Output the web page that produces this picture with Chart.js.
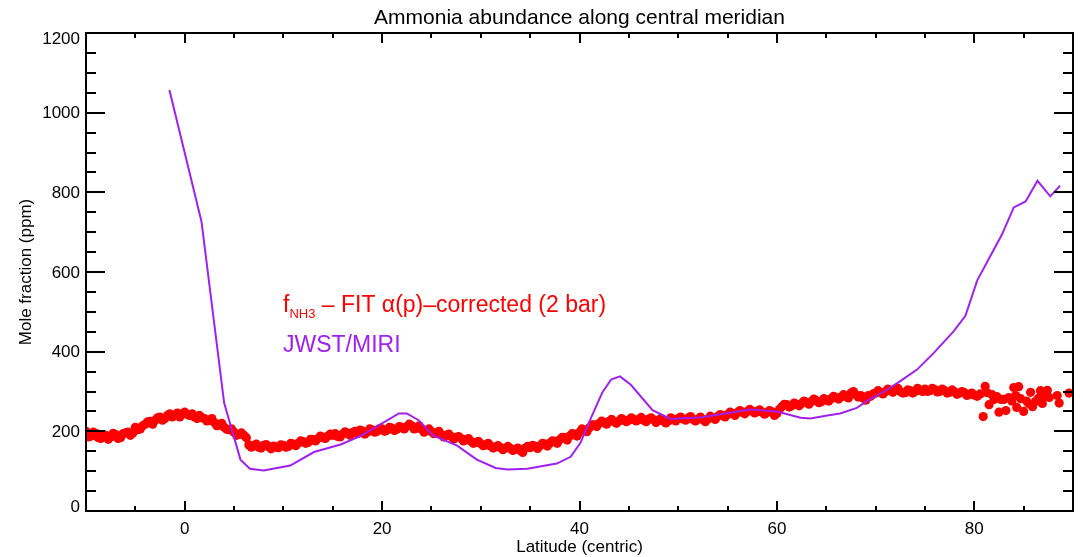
<!DOCTYPE html>
<html><head><meta charset="utf-8">
<script src="https://cdn.jsdelivr.net/npm/chart.js@4/dist/chart.umd.min.js"></script>
<style>html,body{margin:0;padding:0;background:#fff}canvas{display:block}</style>
</head><body>
<canvas id="c" width="1083" height="557"></canvas>
<script>
const titleText = 'Ammonia abundance along central meridian';
const xTitle = 'Latitude (centric)';
const yTitle = 'Mole fraction (ppm)';
const xTickValues = [0, 20, 40, 60, 80];
const yTickValues = [0, 200, 400, 600, 800, 1000, 1200];

const redLat = [
  -10,-9.5,-9,-8.5,-8,-7.5,-7,-6.5,-6,-5.5,
  -5,-4.5,-4,-3.5,-3,-2.5,-2,-1.5,-1,-0.5,
  0,0.5,1,1.5,2,2.5,3,3.5,4,4.5,
  5,5.5,6,6.5,7,7.5,8,8.5,9,9.5,
  10,10.5,11,11.5,12,12.5,13,13.5,14,14.5,
  15,15.5,16,16.5,17,17.5,18,18.5,19,19.5,
  20,20.5,21,21.5,22,22.5,23,23.5,24,24.5,
  25,25.5,26,26.5,27,27.5,28,28.5,29,29.5,
  30,30.5,31,31.5,32,32.5,33,33.5,34,34.5,
  35,35.5,36,36.5,37,37.5,38,38.5,39,39.5,
  40,40.5,41,41.5,42,42.5,43,43.5,44,44.5,
  45,45.5,46,46.5,47,47.5,48,48.5,49,49.5,
  50,50.5,51,51.5,52,52.5,53,53.5,54,54.5,
  55,55.5,56,56.5,57,57.5,58,58.5,59,59.5,
  60,60.5,61,61.5,62,62.5,63,63.5,64,64.5,
  65,65.5,66,66.5,67,67.5,68,68.5,69,69.5,
  70,70.5,71,71.5,72,72.5,73,73.5,74,74.5,
  75,75.5,76,76.5,77,77.5,78,78.5,79,79.5,
  80,
  80.3,80.6,80.9,81.1,81.3,81.5,81.8,82.0,82.3,82.5,
  82.7,83.0,83.2,83.5,83.8,84.0,84.2,84.3,84.5,84.7,
  85.0,85.3,85.5,85.7,85.9,86.2,86.5,86.7,86.9,87.1,
  87.4,87.6,88.4,88.6,89.6
];
const redVal = [
  200,188,195,182,190,186,192,184,196,190,
  210,206,218,225,228,236,232,244,240,236,
  248,240,236,240,232,228,222,216,210,204,
  198,192,190,166,164,160,165,161,163,159,
  165,162,168,170,174,172,179,182,184,188,
  190,187,193,195,197,194,201,198,204,200,
  206,203,208,205,210,212,214,208,206,202,
  199,196,192,190,187,185,182,179,175,172,
  169,166,163,161,159,158,157,155,152,158,
  159,162,164,168,171,175,179,184,188,193,
  198,203,209,216,220,222,225,224,226,228,
  228,230,230,228,231,229,227,226,226,230,
  232,231,233,230,231,229,231,234,237,240,
  242,245,247,248,250,251,250,248,247,249,
  245,262,267,264,268,270,273,275,277,274,
  279,282,285,286,288,296,292,290,278,288,
  296,298,300,302,306,300,297,302,300,303,
  306,302,305,300,302,298,299,296,297,293,
  291,
  288,294,237,313,297,267,292,280,287,248,
  280,280,252,285,276,310,290,260,312,282,
  250,276,270,298,262,275,283,302,270,287,
  303,285,290,271,296
];

const redLatB = [
  -9.75,-9.25,-8.75,-8.25,-7.75,-7.25,-6.75,-6.25,-5.75,-5.25,
  -4.75,-4.25,-3.75,-3.25,-2.75,-2.25,-1.75,-1.25,-0.75,-0.25,
  0.25,0.75,1.25,1.75,2.25,2.75,3.25,3.75,4.25,4.75,
  5.25,5.75,6.25,6.75,7.25,7.75,8.25,8.75,9.25,9.75,
  10.25,10.75,11.25,11.75,12.25,12.75,13.25,13.75,14.25,14.75,
  15.25,15.75,16.25,16.75,17.25,17.75,18.25,18.75,19.25,19.75,
  20.25,20.75,21.25,21.75,22.25,22.75,23.25,23.75,24.25,24.75,
  25.25,25.75,26.25,26.75,27.25,27.75,28.25,28.75,29.25,29.75,
  30.25,30.75,31.25,31.75,32.25,32.75,33.25,33.75,34.25,34.75,
  35.25,35.75,36.25,36.75,37.25,37.75,38.25,38.75,39.25,39.75,
  40.25,40.75,41.25,41.75,42.25,42.75,43.25,43.75,44.25,44.75,
  45.25,45.75,46.25,46.75,47.25,47.75,48.25,48.75,49.25,49.75,
  50.25,50.75,51.25,51.75,52.25,52.75,53.25,53.75,54.25,54.75,
  55.25,55.75,56.25,56.75,57.25,57.75,58.25,58.75,59.25,59.75,
  60.25,60.75,61.25,61.75,62.25,62.75,63.25,63.75,64.25,64.75,
  65.25,65.75,66.25,66.75,67.25,67.75,68.25,68.75,69.25,69.75,
  70.25,70.75,71.25,71.75,72.25,72.75,73.25,73.75,74.25,74.75,
  75.25,75.75,76.25,76.75,77.25,77.75,78.25,78.75,79.25,79.75
];
const redValB = [
  186,198,184,192,180,195,182,194,198,196,
  204,214,224,218,234,228,240,236,246,244,
  242,244,232,234,226,232,214,220,205,206,
  190,196,184,160,168,158,167,156,160,166,
  160,170,164,176,170,180,176,188,182,193,
  194,186,199,190,200,203,193,206,198,207,
  200,210,202,212,206,218,206,214,198,206,
  194,200,186,193,181,187,176,182,170,175,
  164,170,158,164,154,162,152,158,147,162,
  165,157,170,163,176,170,185,178,194,188,
  206,199,216,212,226,218,230,220,232,224,
  234,226,235,224,234,222,232,221,234,226,
  236,228,237,226,236,224,238,230,242,236,
  248,240,252,244,255,246,254,243,252,240,
  255,268,261,271,264,276,268,281,272,282,
  276,288,281,292,284,300,286,284,290,294,
  302,294,306,298,308,296,304,296,308,300,
  300,308,299,306,296,304,293,300,290,296
];

const miriLat = [-1.55,1.7,4.0,5.65,6.6,8.0,10.7,13.1,15.8,17.8,
  21.7,22.5,23.7,25.2,27.6,29.6,31.5,32.7,34.7,37.7,
  39.1,40.1,41.1,42.3,43.2,44.1,45.2,47.4,49.2,52.2,
  57.3,60.0,62.4,63.4,65.1,66.4,68.1,69.1,71.2,72.5,
  74.2,75.9,77.9,79.1,80.3,81.6,82.8,84.0,85.2,86.4,
  87.7,88.7];
const miriVal = [1057,727,271,129,106,102,114,148,167,188,
  245,245,228,189,164,129,108,104,106,119,
  136,171,230,297,330,338,317,253,231,235,
  255,250,234,232,240,245,259,276,305,326,
  355,397,451,490,579,639,694,762,777,829,
  790,817];

const FONT = '"Liberation Sans", Arial, Helvetica, sans-serif';
const RED = '#ff0000';
const PURPLE = '#a020f0';

const frame = {
  id: 'frame',
  afterDraw(chart) {
    const ctx = chart.ctx;
    const {left, right, top, bottom} = chart.chartArea;
    const x = chart.scales.x, y = chart.scales.y;
    ctx.save();
    ctx.strokeStyle = '#000';
    ctx.lineWidth = 2;
    ctx.strokeRect(left, top, right - left, bottom - top);
    ctx.beginPath();
    for (let v = -10; v <= 90; v += 5) {
      const px = Math.round(x.getPixelForValue(v));
      const L = xTickValues.includes(v) ? 10 : 5;
      ctx.moveTo(px, bottom); ctx.lineTo(px, bottom - L);
      ctx.moveTo(px, top); ctx.lineTo(px, top + L);
    }
    for (let v = 0; v <= 1200; v += 50) {
      const py = Math.round(y.getPixelForValue(v));
      const L = yTickValues.includes(v) ? 19 : 10;
      ctx.moveTo(left, py); ctx.lineTo(left + L, py);
      ctx.moveTo(right, py); ctx.lineTo(right - L, py);
    }
    ctx.stroke();

    ctx.fillStyle = '#000';
    ctx.font = '17px ' + FONT;
    ctx.textAlign = 'right';
    ctx.textBaseline = 'middle';
    yTickValues.forEach(v => {
      let py = y.getPixelForValue(v);
      py = Math.min(Math.max(py, top + 5), bottom - 5);
      ctx.fillText(String(v), left - 6, py + 1);
    });

    ctx.textAlign = 'center';
    ctx.textBaseline = 'alphabetic';
    ctx.font = '21px ' + FONT;
    ctx.fillText(titleText, (left + right) / 2, 24);
    ctx.font = '17px ' + FONT;
    ctx.fillText(xTitle, (left + right) / 2, 552);
    ctx.save();
    ctx.translate(31, (top + bottom) / 2);
    ctx.rotate(-Math.PI / 2);
    ctx.fillText(yTitle, 0, 0);
    ctx.restore();

    ctx.textAlign = 'left';
    ctx.fillStyle = RED;
    let lx = 283;
    ctx.font = '23px ' + FONT;
    ctx.fillText('f', lx, 312);
    lx += ctx.measureText('f').width;
    ctx.font = '13px ' + FONT;
    ctx.fillText('NH3', lx, 318);
    lx += ctx.measureText('NH3').width;
    ctx.font = '23px ' + FONT;
    ctx.fillText(' \u2013 FIT \u03B1(p)\u2013corrected (2 bar)', lx, 312);
    ctx.fillStyle = PURPLE;
    ctx.fillText('JWST/MIRI', 283, 352);
    ctx.restore();
  }
};

const redPoints = redLat.map((v, i) => ({x: v, y: redVal[i]}))
  .concat(redLatB.map((v, i) => ({x: v, y: redValB[i]})));

new Chart(document.getElementById('c'), {
  type: 'scatter',
  data: {
    datasets: [
      {
        label: 'JWST/MIRI',
        data: miriLat.map((v, i) => ({x: v, y: miriVal[i]})),
        showLine: true, borderColor: PURPLE, borderWidth: 2,
        pointRadius: 0, pointHoverRadius: 0, tension: 0, fill: false
      },
      {
        label: 'fNH3 - FIT',
        data: redPoints,
        backgroundColor: RED, borderWidth: 0,
        pointRadius: 4.6, pointHoverRadius: 4.6
      }
    ]
  },
  options: {
    responsive: false, animation: false, events: [],
    layout: {padding: {top: 33, right: 10, left: 0, bottom: 0}},
    plugins: {legend: {display: false}, tooltip: {enabled: false}, title: {display: false}},
    scales: {
      x: {
        type: 'linear', min: -10, max: 90,
        grid: {display: false, drawTicks: false},
        border: {display: false},
        afterBuildTicks(s) { s.ticks = xTickValues.map(v => ({value: v})); },
        ticks: {color: '#000', font: {size: 17, family: FONT}, padding: 8, maxRotation: 0, autoSkip: false},
        afterFit(s) { s.height = 46; }
      },
      y: {
        type: 'linear', min: 0, max: 1200,
        grid: {display: false, drawTicks: false},
        border: {display: false},
        ticks: {display: false},
        afterFit(s) { s.width = 86; }
      }
    }
  },
  plugins: [frame]
});
</script>
</body></html>
